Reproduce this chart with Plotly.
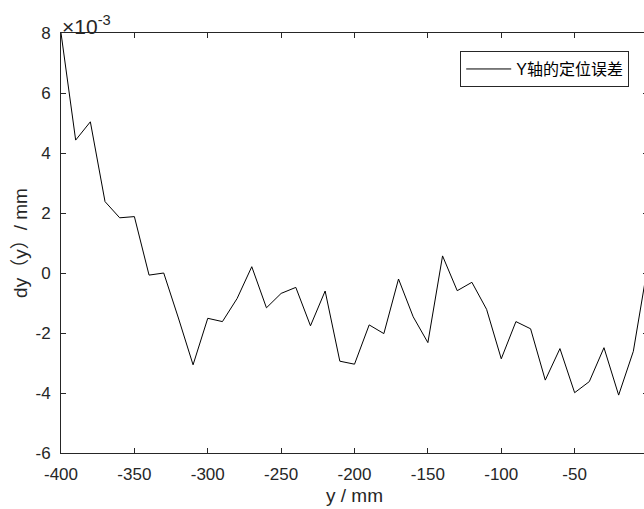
import plotly.graph_objects as go

# Data (y values in units of 1e-3 mm, as shown on the axis with the x10^-3 factor)
y_pos = [-400, -390, -380, -370, -360, -350, -340, -330, -320, -310,
         -300, -290, -280, -270, -260, -250, -240, -230, -220, -210,
         -200, -190, -180, -170, -160, -150, -140, -130, -120, -110,
         -100, -90, -80, -70, -60, -50, -40, -30, -20, -10, 0]
dy_e3 = [8.0, 4.43, 5.04, 2.38, 1.84, 1.88, -0.07, 0.0, -1.5, -3.06,
         -1.51, -1.62, -0.85, 0.21, -1.16, -0.68, -0.48, -1.76, -0.6, -2.94,
         -3.04, -1.73, -2.02, -0.2, -1.46, -2.32, 0.57, -0.59, -0.31, -1.21,
         -2.86, -1.62, -1.86, -3.57, -2.52, -3.99, -3.62, -2.49, -4.07, -2.61, 0.3]
x_ticks = [-400, -350, -300, -250, -200, -150, -100, -50, 0]
y_ticks = [-6, -4, -2, 0, 2, 4, 6, 8]
series_name = "Y轴的定位误差"
x_title = "y / mm"
y_title = "dy（y）/ mm"

FONT = "Liberation Sans, Arial, Noto Sans CJK SC, sans-serif"
AX = "#262626"

fig = go.Figure()
fig.add_trace(go.Scatter(x=y_pos, y=dy_e3, mode="lines", name=series_name,
                         line=dict(color="#000000", width=1)))

axis_common = dict(showline=True, linecolor=AX, linewidth=1, mirror="ticks",
                   ticks="inside", ticklen=5, tickcolor=AX, tickwidth=1,
                   showgrid=False, zeroline=False,
                   tickfont=dict(family=FONT, size=17, color=AX))

fig.update_layout(
    width=652, height=509,
    margin=dict(l=61, r=4, t=33, b=56),
    paper_bgcolor="white", plot_bgcolor="white",
    font=dict(family=FONT, color=AX),
    showlegend=True,
    legend=dict(x=0.968, y=0.957, xanchor="right", yanchor="top",
                bgcolor="white", bordercolor=AX, borderwidth=1,
                font=dict(family=FONT, size=16, color="#000000"),
                itemwidth=45),
    xaxis=dict(range=[-400, 0], tickvals=x_ticks,
               ticktext=[str(v) for v in x_ticks],
               ticklabelstandoff=6,
               title=dict(text=x_title, font=dict(family=FONT, size=19, color=AX), standoff=5),
               **axis_common),
    yaxis=dict(range=[-6, 8], tickvals=y_ticks,
               ticktext=[str(v) for v in y_ticks],
               ticklabelstandoff=6,
               title=dict(text=y_title, font=dict(family=FONT, size=19, color=AX), standoff=2),
               **axis_common),
    annotations=[dict(xref="paper", yref="paper", x=0, y=1, xanchor="left", yanchor="bottom",
                      text="×10<sup>-3</sup>", showarrow=False,
                      font=dict(family=FONT, size=21, color=AX), xshift=-1, yshift=-7)],
)

fig.write_html("out.html", config={"displayModeBar": False},
               post_script="document.body.style.margin='0';document.body.style.overflow='hidden';document.documentElement.style.overflow='hidden';")
